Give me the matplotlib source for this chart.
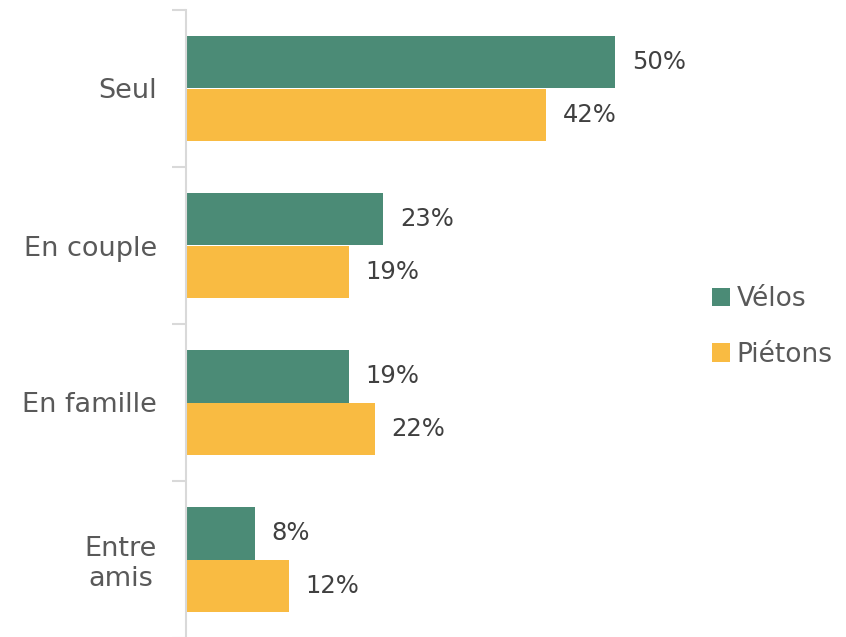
import matplotlib.pyplot as plt
import numpy as np

plt.rcParams['font.family'] = ['DejaVu Sans']

# --- Data ---
categories = ['Seul', 'En couple', 'En famille', 'Entre\namis']
velos = [50, 23, 19, 8]
pietons = [42, 19, 22, 12]
labels_series = ['Vélos', 'Piétons']

col_velos = '#4b8b76'
col_pietons = '#f9bb42'
text_col = '#595959'

fig = plt.figure(figsize=(8.46, 6.37), dpi=100)
ax = fig.add_axes([186 / 846, -1 / 637, 504 / 846, 628 / 637])

y = np.arange(len(categories))
h = 0.335

bars1 = ax.barh(y - h / 2, velos, h, color=col_velos, label=labels_series[0])
bars2 = ax.barh(y + h / 2, pietons, h, color=col_pietons, label=labels_series[1])

for rects, vals in [(bars1, velos), (bars2, pietons)]:
    for r, v in zip(rects, vals):
        ax.annotate(f'{v}%', (r.get_width(), r.get_y() + r.get_height() / 2),
                    xytext=(12, 0), textcoords='offset points',
                    ha='left', va='center', fontsize=17.5, color='#404040')

ax.set_ylim(len(categories) - 0.5, -0.5)
ax.set_xlim(0, 504 / 8.58)

# category labels, ticks at band boundaries
ax.set_yticks(y)
ax.set_yticklabels(categories, fontsize=19.5, color=text_col, ha='right', multialignment='center')
ax.tick_params(axis='y', which='major', length=0, pad=21)
ax.set_yticks(np.arange(-0.5, len(categories)), minor=True)
ax.tick_params(axis='y', which='minor', length=10, width=1.5, color='#d9d9d9')

ax.set_xticks([])
for s in ['top', 'right', 'bottom']:
    ax.spines[s].set_visible(False)
ax.spines['left'].set_color('#d9d9d9')
ax.spines['left'].set_linewidth(1.5)

leg = fig.legend(loc='center left', bbox_to_anchor=(688 / 846, 1 - 327 / 637),
                 frameon=False, fontsize=19, handlelength=0.7, handleheight=0.7,
                 handletextpad=0.25, labelspacing=1.1, labelcolor=text_col)

plt.savefig('out.png', dpi=100)
